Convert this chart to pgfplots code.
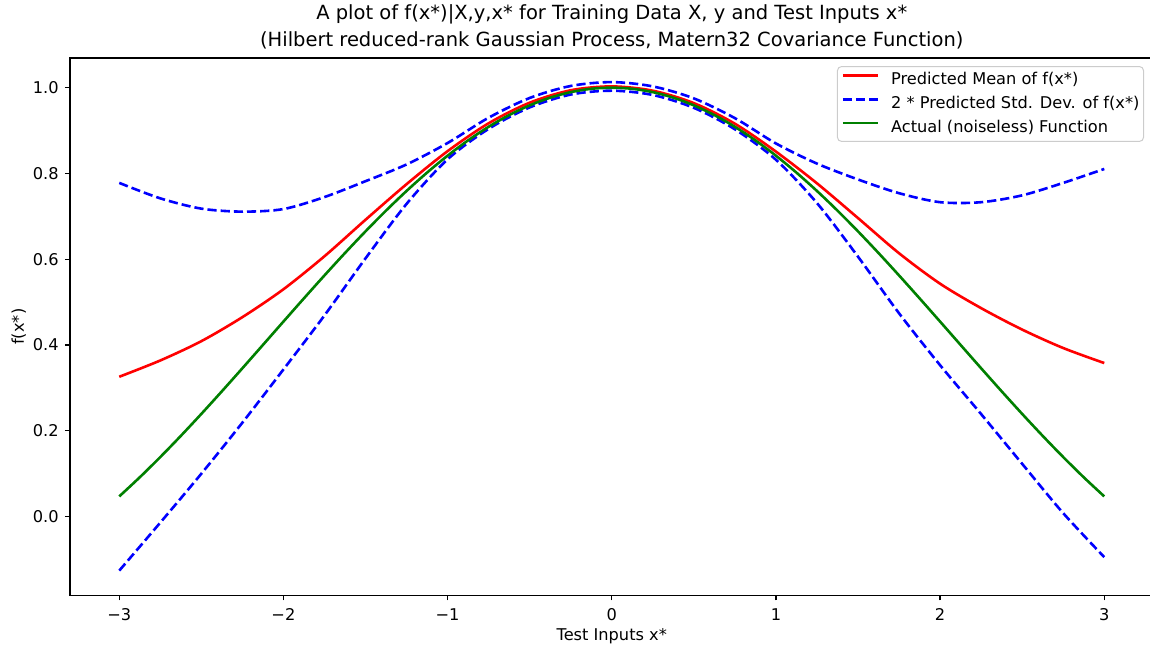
\documentclass[border=0pt]{standalone}
\usepackage{fontspec}
\setmainfont{DejaVu Sans}
\usepackage{pgfplots}
\usepackage{pgfplotstable}
\pgfplotsset{compat=1.18}
\definecolor{mplgreen}{rgb}{0,0.5,0}
\definecolor{legendgray}{rgb}{0.8,0.8,0.8}

\pgfplotstableread{
x mean upper lower
-3.00 0.326 0.778 -0.126
-2.75 0.364 0.742 -0.014
-2.50 0.409 0.718 0.100
-2.25 0.465 0.711 0.219
-2.00 0.530 0.717 0.343
-1.75 0.607 0.745 0.469
-1.50 0.692 0.782 0.602
-1.25 0.775 0.821 0.729
-1.00 0.852 0.871 0.833
-0.75 0.917 0.930 0.904
-0.50 0.965 0.976 0.954
-0.25 0.994 1.004 0.984
0.00 1.003 1.013 0.993
0.25 0.993 1.003 0.983
0.50 0.964 0.975 0.953
0.75 0.916 0.929 0.903
1.00 0.851 0.870 0.832
1.25 0.777 0.823 0.731
1.50 0.696 0.786 0.606
1.75 0.614 0.754 0.474
2.00 0.543 0.733 0.353
2.25 0.486 0.733 0.239
2.50 0.436 0.749 0.123
2.75 0.393 0.778 0.008
3.00 0.358 0.8105 -0.0945
}\gpdata

\pgfplotstableread{
x f
-3.000 0.04704
-2.875 0.09163
-2.750 0.13879
-2.625 0.18816
-2.500 0.23939
-2.375 0.29208
-2.250 0.34581
-2.125 0.40015
-2.000 0.45465
-1.875 0.50885
-1.750 0.56228
-1.625 0.61449
-1.500 0.66500
-1.375 0.71338
-1.250 0.75919
-1.125 0.80202
-1.000 0.84147
-0.875 0.87719
-0.750 0.90885
-0.625 0.93616
-0.500 0.95885
-0.375 0.97673
-0.250 0.98962
-0.125 0.99740
0.000 1.00000
0.125 0.99740
0.250 0.98962
0.375 0.97673
0.500 0.95885
0.625 0.93616
0.750 0.90885
0.875 0.87719
1.000 0.84147
1.125 0.80202
1.250 0.75919
1.375 0.71338
1.500 0.66500
1.625 0.61449
1.750 0.56228
1.875 0.50885
2.000 0.45465
2.125 0.40015
2.250 0.34581
2.375 0.29208
2.500 0.23939
2.625 0.18816
2.750 0.13879
2.875 0.09163
3.000 0.04704
}\truedata

\begin{document}
\begin{tikzpicture}
\begin{axis}[
  at={(0,0)}, anchor=south west,
  scale only axis,
  width=541.75pt, height=268.6pt,
  xmin=-3.3, xmax=3.3, ymin=-0.1835, ymax=1.069,
  axis line style={black, line width=0.65pt},
  tick align=outside, tick pos=left,
  major tick length=2.5pt,
  every tick/.style={black, line width=0.65pt},
  xtick={-3,-2,-1,0,1,2,3},
  xticklabels={−3,−2,−1,0,1,2,3},
  ytick={0,0.2,0.4,0.6,0.8,1.0},
  yticklabels={0.0,0.2,0.4,0.6,0.8,1.0},
  ticklabel style={font=\fontsize{8.1}{9.7}\selectfont},
  xticklabel style={inner sep=0pt, anchor=north, yshift=-4pt},
  yticklabel style={inner sep=0pt, anchor=east, xshift=-3pt},
  xlabel={Test Inputs x*},
  ylabel={f(x*)},
  label style={font=\fontsize{8.1}{9.7}\selectfont, inner sep=0pt},
  xlabel style={at={(axis description cs:0.5,-0.0834)}, anchor=base},
  ylabel style={at={(axis description cs:-0.0425,0.5)}, anchor=base, rotate=0},
  title={A plot of f(x*)|X,y,x* for Training Data X, y and Test Inputs x*\\(Hilbert reduced-rank Gaussian Process, Matern32 Covariance Function)},
  title style={at={(axis description cs:0.5,1)}, anchor=south, yshift=-1.5pt, inner sep=0pt, align=center, font=\fontsize{9.75}{13.5}\selectfont},
  legend style={at={(axis description cs:1,1)}, anchor=north east, xshift=-4.75pt, yshift=-4pt,
    draw=legendgray, line width=0.5pt, rounded corners=2pt, fill=white, fill opacity=0.8, text opacity=1,
    inner xsep=2pt, inner ysep=2.75pt, row sep=3.8pt,
    font=\fontsize{8.1}{9.7}\selectfont,
    nodes={inner sep=0pt, text height=6.2pt, text depth=1.9pt},
    /tikz/every odd column/.append style={column sep=6pt}},
  legend cell align=left,
  legend image code/.code={\draw[#1] (0pt,2.3pt) -- (17.5pt,2.3pt);},
]
\addplot[red, line width=1.3pt, smooth] table[x=x, y=mean] {\gpdata};
\addlegendentry{Predicted Mean of f(x*)}
\addplot[blue, line width=1.3pt, smooth, dash pattern=on 4.6pt off 2pt] table[x=x, y=upper] {\gpdata};
\addlegendentry{2 * Predicted Std. Dev. of f(x*)}
\addplot[blue, line width=1.3pt, smooth, dash pattern=on 4.6pt off 2pt, forget plot] table[x=x, y=lower] {\gpdata};
\addplot[mplgreen, line width=1.3pt, smooth] table[x=x, y=f] {\truedata};
\addlegendentry{Actual (noiseless) Function}
\end{axis}
\pgfresetboundingbox
\path[use as bounding box] (-35pt,-25.35pt) rectangle (540pt,297.65pt);
\end{tikzpicture}
\end{document}
